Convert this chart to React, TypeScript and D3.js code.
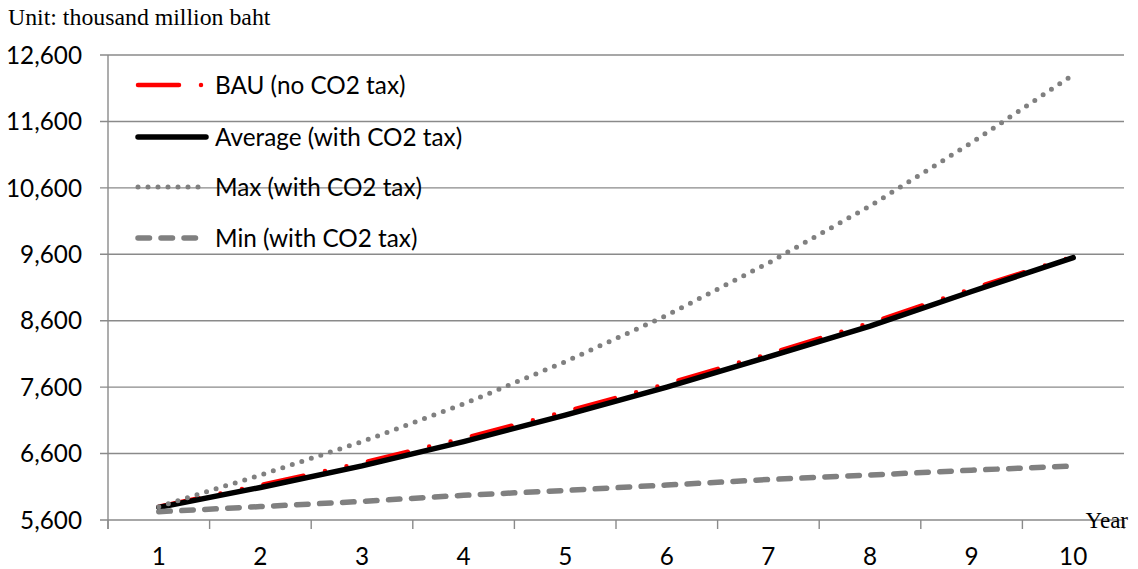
import React from "react";
import * as d3 from "d3";

const years = ["1", "2", "3", "4", "5", "6", "7", "8", "9", "10"];
const bau = [5800, 6125, 6460, 6830, 7230, 7650, 8100, 8565, 9080, 9565];
const average = [5790, 6090, 6415, 6780, 7180, 7600, 8055, 8520, 9040, 9550];
const maxTax = [5800, 6277, 6779, 7346, 7983, 8681, 9469, 10327, 11280, 12303];
const minTax = [5725, 5802, 5880, 5972, 6045, 6127, 6210, 6277, 6350, 6413];
const yTicks = [5600, 6600, 7600, 8600, 9600, 10600, 11600, 12600];

const legendItems = [
  { label: "BAU (no CO2 tax)", key: "bau" },
  { label: "Average (with CO2 tax)", key: "avg" },
  { label: "Max (with CO2 tax)", key: "max" },
  { label: "Min (with CO2 tax)", key: "min" },
];

const styles: Record<string, any> = {
  bau: { stroke: "#FF0000", strokeWidth: 4.5, strokeDasharray: "41 22 0 22 0 22", strokeLinecap: "round" },
  avg: { stroke: "#000000", strokeWidth: 5.5, strokeLinecap: "round" },
  max: { stroke: "#808080", strokeWidth: 5, strokeDasharray: "0 10", strokeLinecap: "round" },
  min: { stroke: "#808080", strokeWidth: 5.5, strokeDasharray: "11.5 11.5", strokeLinecap: "round" },
};

export default function App() {
  const W = 1138, H = 569;
  const left = 108, right = 1124, top = 55, bottom = 520;
  const x = d3.scaleBand<string>().domain(years).range([left, right]).padding(0);
  const y = d3.scaleLinear().domain([5600, 12600]).range([bottom, top]);
  const cx = (d: string) => (x(d) as number) + x.bandwidth() / 2;
  const line = d3.line<number>().x((_, i) => cx(years[i])).y((v) => y(v));
  const font = "Lato, 'Open Sans', sans-serif";
  const fs = 24.3;
  const gridColor = "#8a8a8a";
  const series = [
    { key: "bau", data: bau },
    { key: "avg", data: average },
    { key: "max", data: maxTax },
    { key: "min", data: minTax },
  ];
  const boundaries = years.map((d) => x(d) as number).concat([right]);
  return (
    <svg width={W} height={H} style={{ position: "absolute", left: 0, top: 0, background: "#fff" }}>
      <text x={8} y={25} fontFamily="'Liberation Serif', 'Times New Roman', serif" fontSize={23.8} fill="#000">
        Unit: thousand million baht
      </text>
      {yTicks.map((t) => (
        <g key={t}>
          <line x1={left - 8} x2={right} y1={y(t)} y2={y(t)} stroke={gridColor} strokeWidth={1.4} />
          <text x={82} y={y(t)} dy="0.36em" textAnchor="end" fontFamily={font} fontSize={fs} fill="#000">
            {d3.format(",")(t)}
          </text>
        </g>
      ))}
      <line x1={left} x2={left} y1={top} y2={bottom + 9} stroke={gridColor} strokeWidth={1.4} />
      {boundaries.map((b, i) => (
        <line key={i} x1={b} x2={b} y1={bottom} y2={bottom + 9} stroke={gridColor} strokeWidth={1.4} />
      ))}
      {years.map((d) => (
        <text key={d} x={cx(d)} y={565} textAnchor="middle" fontFamily={font} fontSize={fs} fill="#000">
          {d}
        </text>
      ))}
      <text x={1128} y={528} textAnchor="end" fontFamily="'Liberation Serif', 'Times New Roman', serif" fontSize={23} fill="#000">
        Year
      </text>
      {series.map((s) => (
        <path key={s.key} d={line(s.data) as string} fill="none" {...styles[s.key]} />
      ))}
      {legendItems.map((it, i) => {
        const ly = [85, 137, 187, 238][i];
        return (
          <g key={it.key}>
            <line x1={138} x2={206} y1={ly} y2={ly} {...styles[it.key]} />
            <text x={215} y={ly} dy="0.36em" fontFamily={font} fontSize={fs} fill="#000">
              {it.label}
            </text>
          </g>
        );
      })}
    </svg>
  );
}
